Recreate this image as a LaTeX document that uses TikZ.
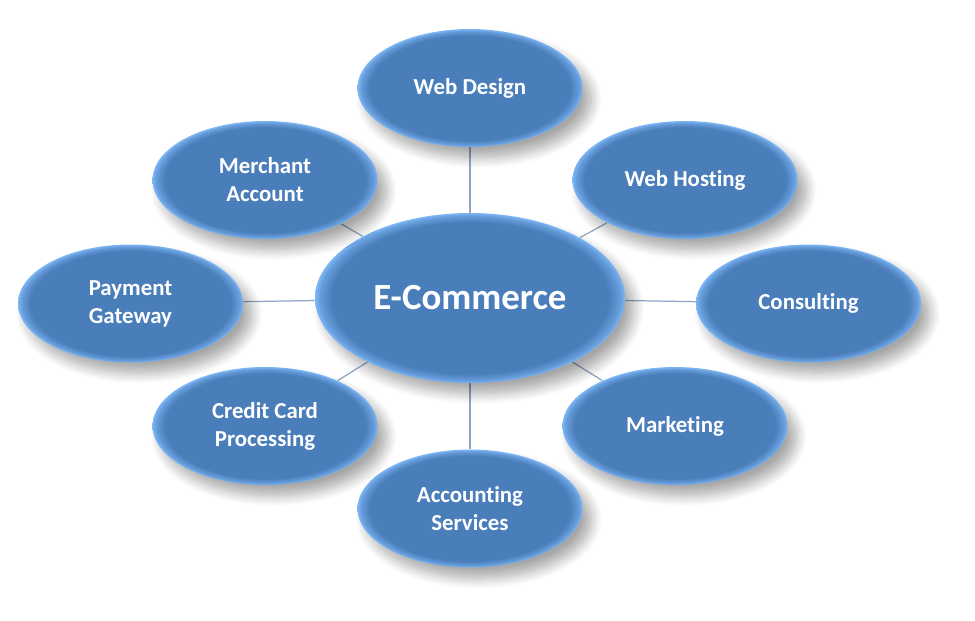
\documentclass[tikz,border=0pt]{standalone}
\usepackage{fontspec}
\setmainfont{Carlito}[Ligatures={NoCommon}]
\usetikzlibrary{shapes.geometric}
\usetikzlibrary{shadows.blur}
\usetikzlibrary{backgrounds}

\definecolor{ecblue}{HTML}{4A7EBB}
\definecolor{ecedge}{HTML}{7DB6F5}
\definecolor{eclink}{HTML}{8EA6C4}
\pgfdeclareradialshading{ecglow}{\pgfpoint{0bp}{0bp}}{color(0bp)=(ecblue); color(22.3bp)=(ecblue); color(24.2bp)=(ecblue!45!ecedge); color(25bp)=(ecedge); color(50bp)=(ecedge)}

\tikzset{
	topic/.style={ellipse, shading=ecglow, minimum width=4.5cm, minimum height=2.36cm, inner sep=0pt,
		text=white, align=center, font=\bfseries\fontsize{13}{16}\selectfont,
		blur shadow={shadow xshift=5pt, shadow yshift=-6pt, shadow blur steps=12, shadow blur radius=6pt, shadow opacity=35}},
	hub/.style={topic, minimum width=6.2cm, minimum height=3.4cm, font=\bfseries\fontsize{21}{25}\selectfont},
	link/.style={draw=eclink, line width=0.7pt}
}

\begin{document}
\begin{tikzpicture}
		\useasboundingbox (0,0) rectangle (19.5,-12.4);
		\node[hub] (ec) at (9.4,-5.96) {E-Commerce};
		\node[topic] (wd) at (9.4,-1.76) {Web Design};
		\node[topic] (wh) at (13.7,-3.6) {Web Hosting};
		\node[topic] (co) at (16.17,-6.07) {Consulting};
		\node[topic] (mk) at (13.5,-8.52) {Marketing};
		\node[topic] (as) at (9.4,-10.17) {Accounting\\Services};
		\node[topic] (cc) at (5.3,-8.52) {Credit Card\\Processing};
		\node[topic] (pg) at (2.61,-6.07) {Payment\\Gateway};
		\node[topic] (ma) at (5.3,-3.6) {Merchant\\Account};
		\begin{scope}[on background layer]
		\foreach \n in {wd,wh,co,mk,as,cc,pg,ma} {
			\draw [link] (ec) -- (\n);
		}
		\end{scope}
\end{tikzpicture}
\end{document}
